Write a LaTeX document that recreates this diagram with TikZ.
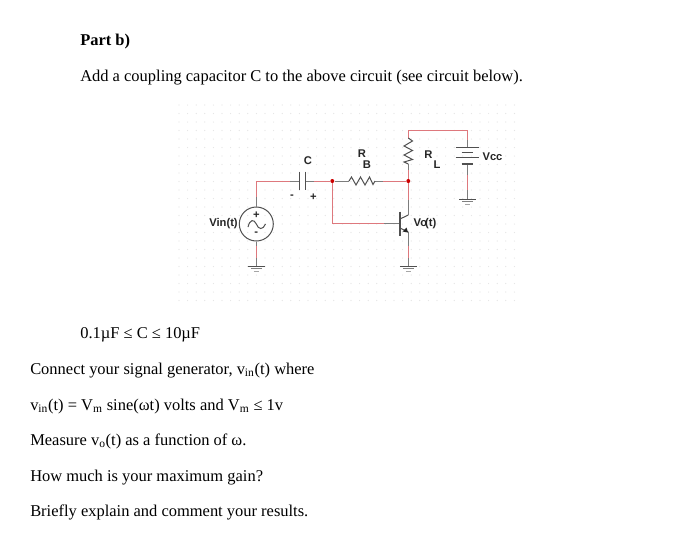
\documentclass[tikz,border=0pt]{standalone}
\usepackage{fontspec}
\setmainfont{Liberation Serif}
\newfontfamily\lab{Liberation Sans}
\definecolor{wirered}{RGB}{222,120,125}
\definecolor{wiregray}{RGB}{125,125,125}
\definecolor{griddot}{RGB}{228,228,228}
\definecolor{partcol}{RGB}{80,80,80}
\tikzset{
 txt/.style={anchor=base west,inner sep=0pt,font=\fontsize{12.35pt}{14pt}\selectfont,text=black},
 lbl/.style={inner sep=0pt,font=\lab\bfseries\fontsize{8.4pt}{9pt}\selectfont,text=black!85},
 wire/.style={draw=wirered,line width=0.75pt},
 lead/.style={draw=wiregray,line width=0.75pt},
 part/.style={draw=partcol,line width=0.75pt},
 junction/.style={circle,fill=red!80!black,inner sep=0pt,minimum size=3pt}
}
\begin{document}
\begin{tikzpicture}[x=0.75pt,y=-0.75pt]
\useasboundingbox (0,0) rectangle (700,540);
\fill[white] (0,0) rectangle (700,540);
% dotted grid
\foreach \gx in {0,...,39}{\foreach \gy in {0,...,23}{
 \fill[griddot] (179+\gx*8.6,105+\gy*8.5) circle (0.45pt);}}
% text
\node[txt,font=\bfseries\fontsize{12.35pt}{14pt}\selectfont] (t1) at (80,45) {Part b)};
\node[txt] (t2) at (80,81) {Add a coupling capacitor C to the above circuit (see circuit below).};
\node[txt] (t3) at (80,338) {0.1µF ≤ C ≤ 10µF};
\node[txt] (t4) at (30,374) {Connect your signal generator, v\textsubscript{in}(t) where};
\node[txt] (t5) at (30,410) {v\textsubscript{in}(t) = V\textsubscript{m} sine(ωt) volts and V\textsubscript{m} ≤ 1v};
\node[txt] (t6) at (30,445) {Measure v\textsubscript{o}(t) as a function of ω.};
\node[txt] (t7) at (30,481) {How much is your maximum gain?};
\node[txt] (t8) at (30,516) {Briefly explain and comment your results.};
% source
\node[circle,draw=partcol,line width=0.75pt,minimum size=25.5pt,inner sep=0pt] (src) at (256.3,224) {};
\draw[part] (248,227) .. controls (250,219) and (254,219) .. (256.3,224) .. controls (258.5,230) and (263,230) .. (265.5,224);
\node[lbl] (splus) at (256.3,215.5) {+};
\node[lbl] (sminus) at (256.3,233.5) {-};
% coordinates
\coordinate (srcTop) at (256.3,181);
\coordinate (capL) at (299.3,181);
\coordinate (capR) at (305.7,181);
\node[junction] (j1) at (332.3,181) {};
\node[junction] (j2) at (408.3,181) {};
\coordinate (rbL) at (349,181);
\coordinate (rbR) at (375,181);
\coordinate (baseCorner) at (332.3,223.3);
\coordinate (baseBar) at (400,223.3);
\coordinate (colTop) at (408.3,130.7);
\coordinate (vccTop) at (467.7,130.7);
\coordinate (rlTop) at (408.3,138);
\coordinate (rlBot) at (408.3,164);
\coordinate (colIn) at (408.3,215);
\coordinate (emOut) at (408.3,232);
\coordinate (g1) at (256.3,266);
\coordinate (g2) at (408.3,266);
\coordinate (g3) at (467.7,199);
% wires
\draw[wire] (256.3,197) -- (srcTop) -- (291,181);
\draw[lead] (src.north) -- (256.3,197);
\draw[lead] (290,181) -- (capL);
\draw[lead] (capR) -- (314,181);
\draw[wire] (314,181) -- (j1);
\draw[lead] (j1) -- (rbL);
\draw[lead] (rbR) -- (383,181);
\draw[wire] (383,181) -- (j2);
\draw[wire] (j1) -- (baseCorner) -- (384,223.3);
\draw[lead] (384,223.3) -- (baseBar);
\draw[wire] (j2) -- (408.3,200);
\draw[lead] (408.3,200) -- (colIn);
\draw[wire] (rlTop) -- (colTop) -- (vccTop) -- (467.7,140);
\draw[lead] (467.7,140) -- (467.7,147.7);
\draw[lead] (rlBot) -- (408.3,170);
\draw[wire] (408.3,170) -- (j2);
\draw[lead] (src.south) -- (256.3,246);
\draw[wire] (256.3,246) -- (256.3,258);
\draw[lead] (256.3,258) -- (g1);
\draw[lead] (emOut) -- (408.3,246);
\draw[wire] (408.3,246) -- (408.3,258);
\draw[lead] (408.3,258) -- (g2);
\draw[lead] (467.7,164) -- (467.7,175);
\draw[wire] (467.7,175) -- (467.7,190);
\draw[lead] (467.7,190) -- (g3);
% capacitor
\draw[part,line width=0.9pt] (299.3,171.7) -- (299.3,190);
\draw[part,line width=0.9pt] (305.7,171.7) -- (305.7,190);
% resistors
\draw[part] (rbL) -- (351.5,177) -- (356,185) -- (360.5,177) -- (365,185) -- (369.5,177) -- (373,184.5) -- (rbR);
\draw[part] (rlTop) -- (412.5,141) -- (404,146) -- (412.5,150.5) -- (404,155) -- (412.5,159.5) -- (404,162) -- (rlBot);
% battery
\draw[part,line width=0.9pt] (455.7,147.7) -- (479,147.7);
\draw[part,line width=0.9pt] (461.7,152.3) -- (473,152.3);
\draw[part,line width=0.9pt] (455.7,157.7) -- (479,157.7);
\draw[part,line width=0.9pt] (461.7,164) -- (473,164);
% transistor
\draw[part,line width=0.9pt] (400,211.7) -- (400,235.5);
\draw[part] (400,219) -- (colIn);
\draw[part] (400,228) -- (emOut);
\fill[black!85] (408,232.5) -- (402.5,231.5) -- (406.5,227.5) -- cycle;
% grounds
\foreach \g in {g1,g2,g3}{
 \draw[part] ([xshift=-6.4pt]\g) -- ([xshift=6.4pt]\g);
 \draw[draw=gray,line width=0.7pt] ([xshift=-4pt,yshift=-2.2pt]\g) -- ([xshift=4pt,yshift=-2.2pt]\g);
 \draw[draw=gray!70,line width=0.7pt] ([xshift=-1.8pt,yshift=-4.4pt]\g) -- ([xshift=1.8pt,yshift=-4.4pt]\g);
}
% labels
\node[lbl] (lc) at (308,160.5) {C};
\node[lbl] (lm) at (292,197) {-};
\node[lbl] (lp) at (313.5,197) {+};
\node[lbl] (lvin) at (223.5,224) {Vin(t)};
\node[lbl] (lr) at (362,153.5) {R};
\node[lbl] (lb) at (367,165) {B};
\node[lbl] (lrl) at (428.5,155) {R};
\node[lbl] (ll) at (437,164.5) {L};
\node[lbl] (lvcc) at (492.5,157) {Vcc};
\node[lbl] (lvo) at (425,224) {V\kern-0.5pt o\kern-1.5pt(t)};
\end{tikzpicture}
\end{document}
